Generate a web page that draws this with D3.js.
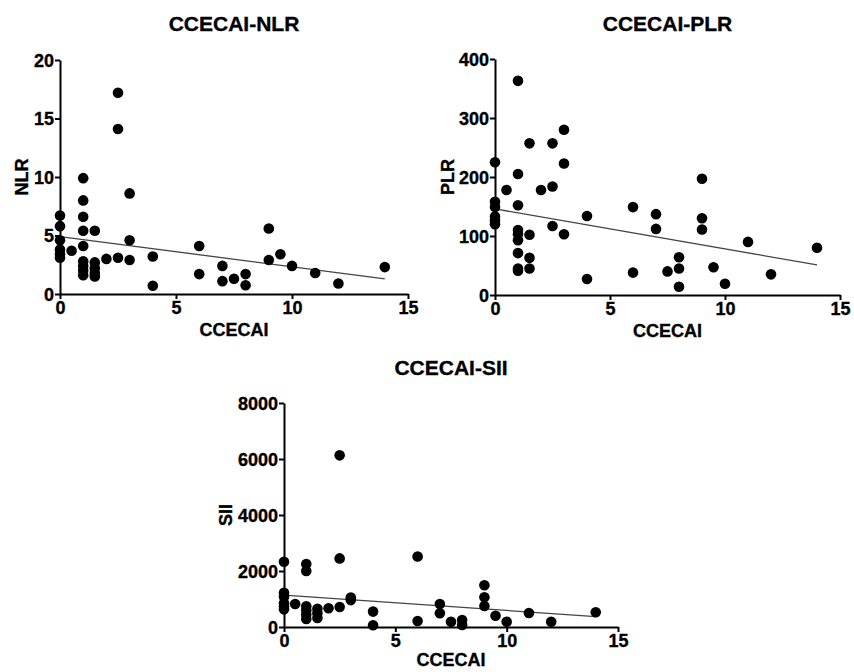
<!DOCTYPE html>
<html>
<head>
<meta charset="utf-8">
<script src="https://cdn.jsdelivr.net/npm/d3@7"></script>
<style>
  body { margin: 0; background: #fff; }
  svg { display: block; }
  text { font-family: "Liberation Sans", Arial, sans-serif; font-weight: bold; fill: #000;
         stroke: #000; stroke-width: 0.35px; }
</style>
</head>
<body>
<svg id="chart" width="854" height="672"></svg>
<script>
// Shared x-axis ticks (CCECAI score)
const xTicks = [0, 5, 10, 15];

// CCECAI vs NLR
const nlrX = [0,0,0,0,0,0, 0.5, 1,1,1,1,1,1,1,1,1, 1.5,1.5,1.5,1.5,1.5, 2, 2.5,2.5,2.5, 3,3,3, 4,4, 6,6, 7,7, 7.5, 8,8, 9,9, 9.5, 10, 11, 12, 14];
const nlrY = [6.7,5.8,4.6,3.8,3.4,3.1, 3.7, 9.9,8.0,6.6,5.4,4.1,2.8,2.4,2.0,1.6, 5.4,2.7,2.2,1.8,1.5, 3.0, 17.2,14.1,3.1, 8.6,4.6,2.9, 3.2,0.7, 4.1,1.7, 2.4,1.1, 1.3, 1.7,0.75, 5.6,2.9, 3.4, 2.4, 1.8, 0.9, 2.3];
const nlrFit = [[0, 4.9], [14, 1.3]];
const nlrTicks = [0, 5, 10, 15, 20];

// CCECAI vs PLR
const plrX = [0,0,0,0,0,0, 0.5, 1,1,1,1,1,1,1,1,1, 1.5,1.5,1.5,1.5, 2, 2.5,2.5,2.5, 3,3,3, 4,4, 6,6, 7,7, 7.5, 8,8,8, 9,9,9, 9.5, 10, 11, 12, 14];
const plrY = [225,158,149,133,126,120, 178, 363,205,152,110,103,93,71,45,41, 257,102,63,45, 178, 257,184,117, 280,223,103, 134,27, 149,38, 137,112, 40, 64,45,14, 197,130,111, 47, 19, 90, 35, 80];
const plrFit = [[0, 146], [14, 51]];
const plrTicks = [0, 100, 200, 300, 400];

// CCECAI vs SII
const siiX = [0,0,0,0,0,0, 0.5, 1,1,1,1,1,1, 1.5,1.5,1.5, 2, 2.5,2.5,2.5, 3,3, 4,4, 6,6, 7,7, 7.5, 8,8, 9,9,9, 9.5, 10, 11, 12, 14];
const siiY = [2330,1220,1080,850,730,630, 820, 2250,2000,740,600,450,290, 650,490,320, 670, 6130,2450,714, 1050,960, 550,60, 2520,214, 820,490, 190, 250,70, 1490,1060,750, 400, 190, 500, 190, 525];
const siiFit = [[0, 1140], [14, 370]];
const siiTicks = [0, 2000, 4000, 6000, 8000];

const svg = d3.select("#chart");

const panels = [
  { title: "CCECAI-NLR", yLabel: "NLR", xs: nlrX, ys: nlrY, fit: nlrFit, yTicks: nlrTicks,
    left: 60, right: 408, top: 60, bottom: 294, titleY: 31, yLabelX: 22, xLabelY: 336 },
  { title: "CCECAI-PLR", yLabel: "PLR", xs: plrX, ys: plrY, fit: plrFit, yTicks: plrTicks,
    left: 495, right: 840, top: 59, bottom: 295, titleY: 31, yLabelX: 448, xLabelY: 337 },
  { title: "CCECAI-SII", yLabel: "SII", xs: siiX, ys: siiY, fit: siiFit, yTicks: siiTicks,
    left: 284, right: 618, top: 403, bottom: 627, titleY: 375, yLabelX: 226, xLabelY: 666 }
];

panels.forEach(p => {
  const x = d3.scaleLinear().domain([xTicks[0], xTicks[xTicks.length - 1]]).range([p.left, p.right]);
  const y = d3.scaleLinear().domain([p.yTicks[0], p.yTicks[p.yTicks.length - 1]]).range([p.bottom, p.top]);
  const g = svg.append("g");

  // Title
  g.append("text")
    .attr("x", (p.left + p.right) / 2)
    .attr("y", p.titleY)
    .attr("text-anchor", "middle")
    .style("font-size", "21px")
    .text(p.title);

  // Axes
  const xAxis = g.append("g")
    .attr("transform", `translate(0,${p.bottom})`)
    .call(d3.axisBottom(x).tickValues(xTicks).tickFormat(d3.format("d"))
      .tickSize(5).tickSizeOuter(0).tickPadding(2));
  const yAxis = g.append("g")
    .attr("transform", `translate(${p.left},0)`)
    .call(d3.axisLeft(y).tickValues(p.yTicks).tickFormat(d3.format("d"))
      .tickSize(5).tickSizeOuter(0).tickPadding(1));
  [xAxis, yAxis].forEach(a => {
    a.attr("font-family", null).attr("font-size", null);
    a.select(".domain").attr("stroke", "#000").attr("stroke-width", 2);
    a.selectAll(".tick line").attr("stroke", "#000").attr("stroke-width", 2);
    a.selectAll(".tick text")
      .style("font-size", "18px")
      .style("font-weight", "bold")
      .attr("fill", "#000");
  });
  yAxis.selectAll(".tick text").attr("dy", "0.36em");

  // Axis titles
  g.append("text")
    .attr("x", (p.left + p.right) / 2)
    .attr("y", p.xLabelY)
    .attr("text-anchor", "middle")
    .style("font-size", "18px")
    .text("CCECAI");
  g.append("text")
    .attr("transform", `translate(${p.yLabelX},${(p.top + p.bottom) / 2}) rotate(-90)`)
    .attr("text-anchor", "middle")
    .attr("dy", "0.36em")
    .style("font-size", "18px")
    .text(p.yLabel);

  // Linear fit
  g.append("line")
    .attr("x1", x(p.fit[0][0])).attr("y1", y(p.fit[0][1]))
    .attr("x2", x(p.fit[1][0])).attr("y2", y(p.fit[1][1]))
    .attr("stroke", "#444").attr("stroke-width", 1.3);

  // Points
  g.append("g").selectAll("circle")
    .data(p.xs.map((v, i) => [v, p.ys[i]]))
    .join("circle")
    .attr("cx", d => x(d[0]))
    .attr("cy", d => y(d[1]))
    .attr("r", 5.3)
    .attr("fill", "#000");
});
</script>
</body>
</html>
